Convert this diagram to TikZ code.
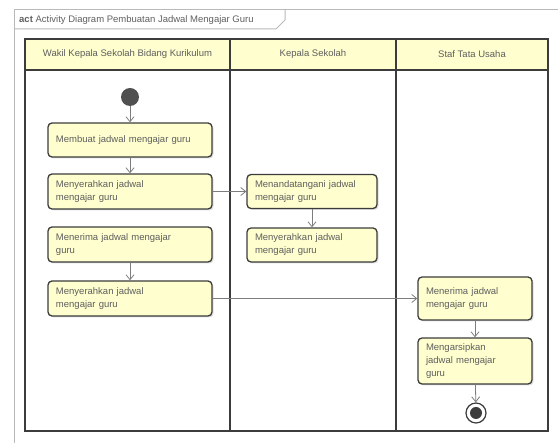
\documentclass[tikz,border=0pt]{standalone}
\usepackage{fontspec}
\setmainfont{Liberation Sans}
\usetikzlibrary{arrows.meta,shadows}
\definecolor{umlfill}{RGB}{254,254,206}
\definecolor{umlline}{RGB}{60,60,60}
\definecolor{umltext}{RGB}{95,95,95}
\definecolor{umlframe}{RGB}{185,185,185}
\definecolor{umlarrow}{RGB}{125,125,125}
\begin{document}
\begin{tikzpicture}[x=1pt, y=-1pt,
	font=\fontsize{9.5}{13}\selectfont,
	frame/.style={draw=umlframe, line width=1pt},
	lane/.style={draw=umlline, line width=1.3pt},
	lanehead/.style={rectangle, draw=umlline, line width=1.3pt, fill=umlfill, text=umltext, minimum height=31pt, inner sep=0pt},
	action/.style={rectangle, rounded corners=4pt, draw=umlline, line width=1.3pt, fill=umlfill, text=umltext, align=left, inner xsep=8pt, inner ysep=3pt, drop shadow={shadow xshift=1.5pt, shadow yshift=-1.5pt, opacity=0.25}},
	wideaction/.style={action, text width=148pt, minimum height=35pt},
	midaction/.style={action, text width=114pt, minimum height=34pt},
	smallaction/.style={action, text width=98pt},
	flow/.style={draw=umlarrow, line width=0.8pt, -{Straight Barb[length=5pt, width=8pt]}}]
	\useasboundingbox (0,0) rectangle (558,443);
	% frame and title
	\draw [frame] (14,447) -- (14,10) -- (562,10);
	\draw [frame] (14,29) -- (276,29) -- (285,20) -- (285,10);
	\node (title) [anchor=west, text=umltext, inner sep=0pt] at (19,20) {\textbf{act} Activity Diagram Pembuatan Jadwal Mengajar Guru};
	% swimlanes
	\node (headWakil) [lanehead, minimum width=205pt] at (127.5,54.5) {Wakil Kepala Sekolah Bidang Kurikulum};
	\node (headKepsek) [lanehead, minimum width=166pt] at (313,54.5) {Kepala Sekolah};
	\node (headStaf) [lanehead, minimum width=152pt] at (472,54.5) {Staf Tata Usaha};
	\draw [lane] (25,70) rectangle (230,431);
	\draw [lane] (230,70) rectangle (396,431);
	\draw [lane] (396,70) rectangle (548,431);
	% activities
	\node (start) [circle, fill=umlline!90, minimum size=18pt, inner sep=0pt] at (130,97) {};
	\node (membuat) [wideaction, minimum height=34pt] at (130,140) {Membuat jadwal mengajar guru};
	\node (serahWakil1) [wideaction] at (130,191.5) {Menyerahkan jadwal\\mengajar guru};
	\node (terimaWakil) [wideaction] at (130,244.5) {Menerima jadwal mengajar\\guru};
	\node (serahWakil2) [wideaction] at (130,298.5) {Menyerahkan jadwal\\mengajar guru};
	\node (tandatangan) [midaction] at (312,191.5) {Menandatangani jadwal\\mengajar guru};
	\node (serahKepsek) [midaction] at (312,245) {Menyerahkan jadwal\\mengajar guru};
	\node (terimaStaf) [smallaction, minimum height=43pt] at (475,298.5) {Menerima jadwal\\mengajar guru};
	\node (arsip) [smallaction, minimum height=46pt] at (475,361) {Mengarsipkan\\jadwal mengajar\\guru};
	\node (stop) [circle, draw=umlline, line width=1.2pt, fill=white, minimum size=20pt, inner sep=0pt] at (476,413) {};
	\node (stopdot) [circle, fill=umlline, minimum size=12pt, inner sep=0pt] at (stop) {};
	% flows
	\draw [flow] (start) -- (membuat);
	\draw [flow] (membuat) -- (serahWakil1);
	\draw [flow] (serahWakil1) -- (tandatangan);
	\draw [flow] (tandatangan) -- (serahKepsek);
	\draw [flow] (terimaWakil) -- (serahWakil2);
	\draw [flow] (serahWakil2) -- (terimaStaf);
	\draw [flow] (terimaStaf) -- (arsip);
	\draw [flow] (arsip) -- (stop);
\end{tikzpicture}
\end{document}
